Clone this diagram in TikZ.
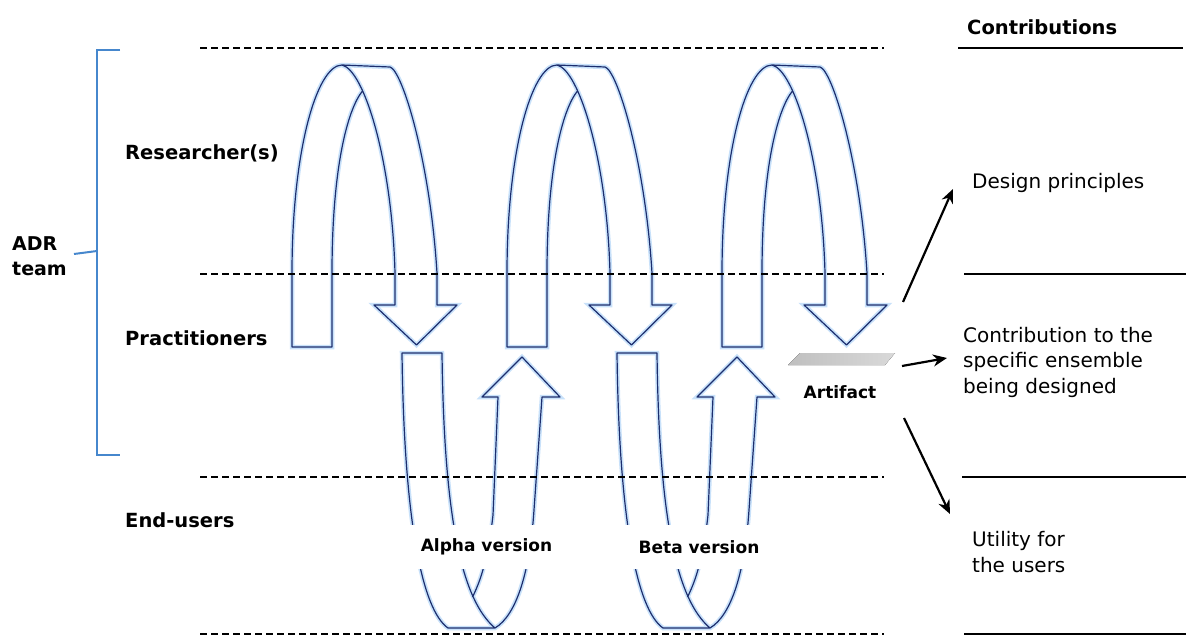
\documentclass[tikz,border=0pt]{standalone}
\usepackage{fontspec}
\setmainfont{DejaVu Sans}
\usetikzlibrary{arrows.meta}
\definecolor{ribbonblue}{RGB}{28,46,110}
\definecolor{haloblue}{RGB}{200,225,250}
\definecolor{bracketblue}{RGB}{70,135,205}
\begin{document}
\begin{tikzpicture}[x=1pt,y=-1pt,
  ribbon/.style={draw=ribbonblue,line width=1.2pt,line join=round,preaction={draw=haloblue,line width=4.5pt}},
  layersep/.style={dash pattern=on 7pt off 4pt,line width=1.5pt},
  sideline/.style={line width=1.5pt},
  role/.style={font=\fontsize{19.5}{25}\selectfont\bfseries,anchor=west,inner sep=0pt,align=left},
  contrib/.style={font=\fontsize{20}{25.5}\selectfont,anchor=west,align=left,inner sep=0pt},
  version/.style={font=\fontsize{17}{20}\selectfont\bfseries,fill=white,inner xsep=15pt,minimum height=44pt},
  outarrow/.style={-{Stealth[length=14pt,width=12pt]},line width=2.2pt}
]
\useasboundingbox (0,0) rectangle (1186,639);
\fill[white] (0,0) rectangle (1186,639);

% upper ribbons (researchers -> practitioners)
\foreach \x in {292,507,722}{
\begin{scope}[shift={(\x,0)}]
\draw[ribbon] (70.6,90.8) .. controls (55,110) and (40,170) .. (40,273) -- (40,347) -- (0,347) -- (0,273)
  .. controls (0,150) and (25,65) .. (50,65) -- (98,67) .. controls (110,70) and (138,160) .. (145,273)
  -- (145,305) -- (165,305) -- (124.5,345) -- (82,305) -- (103,305) -- (103,273)
  .. controls (100,160) and (72,70) .. (50,65);
\end{scope}}

% lower ribbons (practitioners -> end-users)
\foreach \x in {402,617}{
\begin{scope}[shift={(\x,0)}]
\draw[ribbon] (70.5,597) .. controls (78,582) and (86,560) .. (91,515) -- (96,397) -- (80,397) -- (120,357)
  -- (158,397) -- (140,397) -- (132,510) .. controls (128,570) and (115,615) .. (93,628) -- (46,628)
  .. controls (20,610) and (2,520) .. (0,353) -- (40,353) .. controls (42,520) and (60,600) .. (93,628);
\end{scope}}

% layer separators
\foreach \y in {48,274,477,634}{
  \draw[layersep] (200,\y) -- (884,\y);
}
\draw[sideline] (958,48) -- (1183,48);
\draw[sideline] (964,274) -- (1186,274);
\draw[sideline] (962,477) -- (1186,477);
\draw[sideline] (964,634) -- (1186,634);

% version labels
\node[version] (alpha) at (486.5,547) {Alpha version};
\node[version] (beta) at (699,547) {Beta version};

% roles
\node[role] (res) at (125,153) {Researcher(s)};
\node[role] (prac) at (125,338) {Practitioners};
\node[role] (end) at (125,520) {End-users};
\node[role,font=\fontsize{19}{25}\selectfont\bfseries] (adr) at (12,256) {ADR\\team};

% bracket
\draw[bracketblue,line width=2pt] (120,50) -- (97,50) -- (97,455) -- (120,455);
\draw[bracketblue,line width=2pt] (74,254) -- (97,251);

% artifact
\fill[left color=gray!50,right color=gray!30] (788,365) -- (800,353) -- (895,353) -- (885,365) -- cycle;
\node[font=\fontsize{17}{20}\selectfont\bfseries,inner sep=0pt] (artifact) at (840,392) {Artifact};

% contributions
\node[font=\fontsize{19.5}{23}\selectfont\bfseries,anchor=west,inner sep=0pt] (contrib) at (967,27) {Contributions};
\node[contrib] (dp) at (972,183) {Design principles};
\node[contrib] (ens) at (963,362) {Contribution to the\\specific ensemble\\being designed};
\node[contrib] (util) at (972,552) {Utility for\\the users};

\coordinate (t1) at (903,302);
\coordinate (h1) at (953,189);
\coordinate (t2) at (902,366);
\coordinate (h2) at (947,358);
\coordinate (t3) at (904,418);
\coordinate (h3) at (950,514);
\draw[outarrow] (t1) -- (h1);
\draw[outarrow] (t2) -- (h2);
\draw[outarrow] (t3) -- (h3);
\end{tikzpicture}
\end{document}
